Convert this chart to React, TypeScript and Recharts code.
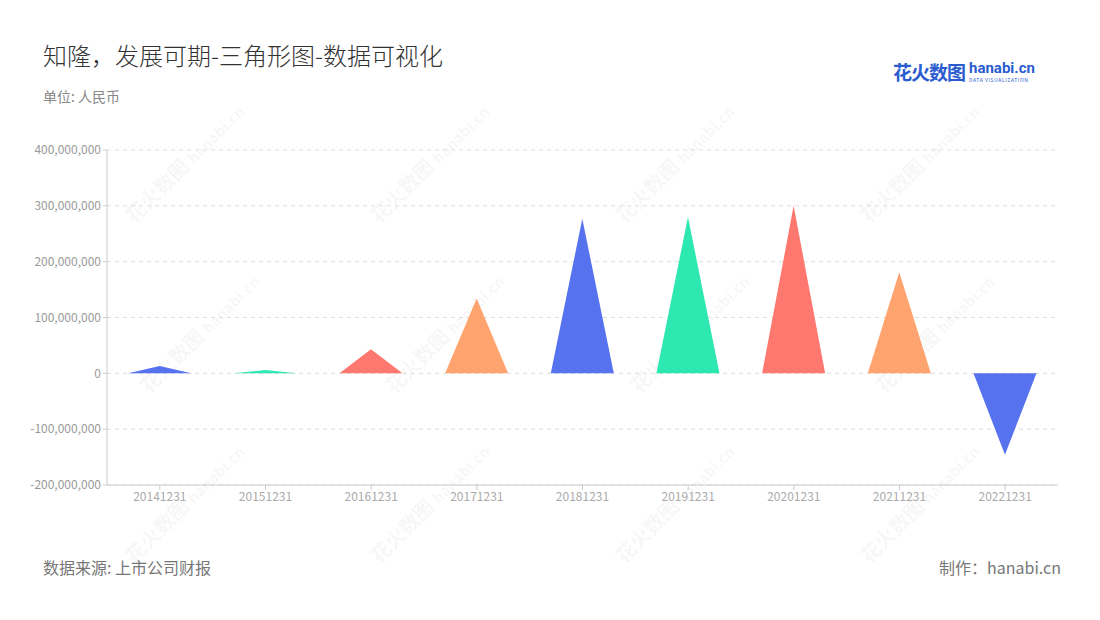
import React from 'react';
import { BarChart, Bar, XAxis, YAxis, CartesianGrid, Cell } from 'recharts';

// 报告期
const periods = [
  '20141231', '20151231', '20161231', '20171231', '20181231',
  '20191231', '20201231', '20211231', '20221231',
];

// 净利润（估读）
const profits = [
  13000000, 6000000, 43000000, 134000000, 277000000,
  280000000, 300000000, 181000000, -146000000,
];

const yTicks = [-200000000, -100000000, 0, 100000000, 200000000, 300000000, 400000000];

const palette = ['#5772ef', '#2de8b0', '#ff7870', '#ffa36f'];

const data = periods.map((p, i) => ({ name: p, value: profits[i] }));

const font = '"Noto Sans CJK SC", "Noto Sans", sans-serif';

// 三角形
const Triangle = (props: any) => {
  const { x, y, width, height, fill, value } = props;
  const top = Math.min(y, y + height);
  const bottom = Math.max(y, y + height);
  const v = Array.isArray(value) ? value[1] - value[0] : value;
  const mid = x + width / 2;
  const d =
    v >= 0
      ? `M${x},${bottom} L${mid},${top} L${x + width},${bottom} Z`
      : `M${x},${top} L${mid},${bottom} L${x + width},${top} Z`;
  return <path d={d} fill={fill} />;
};

const marks = [
  [165, 160], [410, 160], [655, 160], [900, 160],
  [180, 330], [425, 330], [670, 330], [915, 330],
  [165, 500], [410, 500], [655, 500], [900, 500],
];

const App = () => {
  return (
    <div
      style={{
        position: 'absolute',
        left: 0,
        top: 0,
        width: 1100,
        height: 620,
        background: '#fff',
        fontFamily: font,
        overflow: 'hidden',
      }}
    >
      <div style={{ position: 'absolute', left: 43, top: 37, fontSize: 24, color: '#333', fontWeight: 300 }}>
        知隆，发展可期-三角形图-数据可视化
      </div>
      <div style={{ position: 'absolute', left: 43, top: 86, fontSize: 14, color: '#888' }}>
        单位: 人民币
      </div>

      {/* logo */}
      <div style={{ position: 'absolute', left: 893, top: 58, display: 'flex', alignItems: 'center' }}>
        <span style={{ fontSize: 19, fontWeight: 700, color: '#2a5ccf', letterSpacing: -1 }}>花火数图</span>
        <div style={{ marginLeft: 4, lineHeight: 1 }}>
          <div style={{ fontSize: 15, fontWeight: 700, color: '#2a5ccf', fontFamily: 'Roboto, sans-serif' }}>
            hanabi.cn
          </div>
          <div style={{ fontSize: 5, color: '#2a5ccf', letterSpacing: 0.6, marginTop: 1 }}>DATA VISUALIZATION</div>
        </div>
      </div>

      {marks.map(([mx, my], i) => (
        <div
          key={i}
          style={{
            position: 'absolute',
            left: mx - 60,
            top: my - 12,
            transform: 'rotate(-45deg)',
            color: 'rgba(0,0,0,0.05)',
            fontSize: 20,
            fontWeight: 700,
            whiteSpace: 'nowrap',
          }}
        >
          花火数图 <span style={{ fontSize: 15 }}>hanabi.cn</span>
        </div>
      ))}

      <div style={{ position: 'absolute', left: 0, top: 0 }}>
        <BarChart
          width={1100}
          height={620}
          data={data}
          margin={{ top: 150, right: 42, bottom: 105, left: 8 }}
          barCategoryGap="20%"
        >
          <CartesianGrid vertical={false} stroke="#ddd" strokeDasharray="4 4" />
          <XAxis
            dataKey="name"
            height={30}
            axisLine={{ stroke: '#ccc' }}
            tickLine={{ stroke: '#ccc' }}
            tick={{ fill: '#aaa', fontSize: 12, fontFamily: font }}
            tickSize={5}
          />
          <YAxis
            width={99}
            domain={[-200000000, 400000000]}
            ticks={yTicks}
            interval={0}
            axisLine={{ stroke: '#ccc' }}
            tickLine={{ stroke: '#ccc' }}
            tickSize={4}
            tick={{ fill: '#999', fontSize: 12, fontFamily: font }}
            tickFormatter={(v: number) => v.toLocaleString('en-US')}
          />
          <Bar dataKey="value" shape={<Triangle />} isAnimationActive={false}>
            {data.map((d, i) => (
              <Cell key={d.name} fill={palette[i % palette.length]} />
            ))}
          </Bar>
        </BarChart>
      </div>

      <div style={{ position: 'absolute', left: 43, top: 555, fontSize: 16, color: '#777' }}>
        数据来源: 上市公司财报
      </div>
      <div style={{ position: 'absolute', right: 39, top: 555, fontSize: 16, color: '#777' }}>
        制作：hanabi.cn
      </div>
    </div>
  );
};

export default App;
